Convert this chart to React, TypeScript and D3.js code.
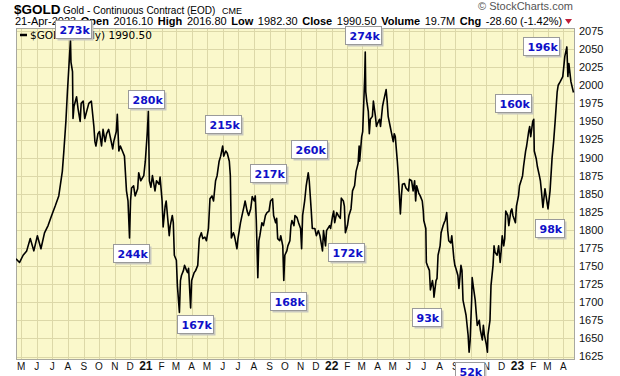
import React from "react";
import * as d3 from "d3";

const dates: string[] = [
"2020-04-21","2020-04-28","2020-05-05","2020-05-12","2020-05-19","2020-05-26","2020-06-02","2020-06-09","2020-06-16","2020-06-23","2020-06-30",
"2020-07-07","2020-07-14","2020-07-21","2020-07-24","2020-07-28","2020-07-31","2020-08-04","2020-08-06","2020-08-07","2020-08-10","2020-08-11",
"2020-08-13","2020-08-18","2020-08-21","2020-08-25","2020-08-27","2020-08-31","2020-09-03","2020-09-08","2020-09-11","2020-09-16","2020-09-18",
"2020-09-21","2020-09-23","2020-09-25","2020-09-29","2020-10-02","2020-10-06","2020-10-09","2020-10-13","2020-10-16","2020-10-20","2020-10-23",
"2020-10-28","2020-10-30","2020-11-04","2020-11-06","2020-11-09","2020-11-12","2020-11-16","2020-11-20","2020-11-24","2020-11-27","2020-11-30",
"2020-12-02","2020-12-04","2020-12-08","2020-12-11","2020-12-16","2020-12-18","2020-12-22","2020-12-28","2020-12-31",
"2021-01-04","2021-01-06","2021-01-08","2021-01-11","2021-01-14","2021-01-19","2021-01-22","2021-01-27","2021-01-29","2021-02-02","2021-02-04",
"2021-02-08","2021-02-10","2021-02-16","2021-02-18","2021-02-22","2021-02-24","2021-02-26","2021-03-02","2021-03-04","2021-03-08","2021-03-10",
"2021-03-12","2021-03-16","2021-03-18","2021-03-22","2021-03-24","2021-03-26","2021-03-30","2021-04-01","2021-04-06","2021-04-09","2021-04-13",
"2021-04-16","2021-04-20","2021-04-23","2021-04-27","2021-04-30","2021-05-04","2021-05-07","2021-05-11","2021-05-14","2021-05-18","2021-05-21",
"2021-05-25","2021-05-28","2021-06-01","2021-06-03","2021-06-07","2021-06-10","2021-06-14","2021-06-16","2021-06-17","2021-06-18","2021-06-22",
"2021-06-24","2021-06-29","2021-07-01","2021-07-06","2021-07-09","2021-07-13","2021-07-15","2021-07-19","2021-07-22","2021-07-26","2021-07-29",
"2021-08-02","2021-08-04","2021-08-06","2021-08-09","2021-08-11","2021-08-13","2021-08-17","2021-08-20","2021-08-24","2021-08-27","2021-08-31",
"2021-09-03","2021-09-07","2021-09-09","2021-09-13","2021-09-15","2021-09-17","2021-09-21","2021-09-23","2021-09-27","2021-09-29","2021-10-01",
"2021-10-05","2021-10-07","2021-10-11","2021-10-13","2021-10-15","2021-10-19","2021-10-21","2021-10-25","2021-10-28","2021-11-01","2021-11-03",
"2021-11-05","2021-11-09","2021-11-12","2021-11-16","2021-11-18","2021-11-22","2021-11-24","2021-11-29","2021-12-02","2021-12-06","2021-12-09",
"2021-12-14","2021-12-16","2021-12-20","2021-12-22","2021-12-28","2021-12-30",
"2022-01-03","2022-01-05","2022-01-07","2022-01-11","2022-01-14","2022-01-18","2022-01-20","2022-01-24","2022-01-26","2022-01-28","2022-02-01",
"2022-02-04","2022-02-08","2022-02-11","2022-02-15","2022-02-18","2022-02-22","2022-02-24","2022-02-25","2022-03-01","2022-03-03","2022-03-07",
"2022-03-08","2022-03-09","2022-03-11","2022-03-14","2022-03-16","2022-03-18","2022-03-22","2022-03-24","2022-03-28","2022-03-30","2022-04-01",
"2022-04-05","2022-04-07","2022-04-11","2022-04-13","2022-04-18","2022-04-20","2022-04-22","2022-04-26","2022-04-28","2022-05-02","2022-05-04",
"2022-05-06","2022-05-10","2022-05-12","2022-05-16","2022-05-18","2022-05-20","2022-05-24","2022-05-27","2022-06-01","2022-06-03","2022-06-07",
"2022-06-10","2022-06-13","2022-06-15","2022-06-17","2022-06-21","2022-06-24","2022-06-28","2022-06-30","2022-07-01","2022-07-05","2022-07-06",
"2022-07-08","2022-07-12","2022-07-14","2022-07-18","2022-07-20","2022-07-21","2022-07-25","2022-07-27","2022-07-29","2022-08-02","2022-08-04",
"2022-08-08","2022-08-10","2022-08-12","2022-08-15","2022-08-17","2022-08-19","2022-08-23","2022-08-25","2022-08-29","2022-08-31","2022-09-02",
"2022-09-06","2022-09-08","2022-09-12","2022-09-14","2022-09-16","2022-09-20","2022-09-22","2022-09-26","2022-09-28","2022-09-30","2022-10-03",
"2022-10-04","2022-10-06","2022-10-10","2022-10-12","2022-10-14","2022-10-18","2022-10-20","2022-10-24","2022-10-26","2022-10-28","2022-11-01",
"2022-11-03","2022-11-04","2022-11-08","2022-11-10","2022-11-14","2022-11-16","2022-11-18","2022-11-22","2022-11-25","2022-11-28","2022-11-30",
"2022-12-02","2022-12-05","2022-12-07","2022-12-09","2022-12-13","2022-12-15","2022-12-19","2022-12-21","2022-12-23","2022-12-28","2022-12-30",
"2023-01-03","2023-01-05","2023-01-09","2023-01-11","2023-01-13","2023-01-17","2023-01-19","2023-01-23","2023-01-25","2023-01-27","2023-01-31",
"2023-02-02","2023-02-03","2023-02-07","2023-02-09","2023-02-13","2023-02-15","2023-02-17","2023-02-20","2023-02-24","2023-03-02","2023-03-06",
"2023-03-10","2023-03-13","2023-03-16","2023-03-20","2023-03-22","2023-03-26","2023-03-31","2023-04-04","2023-04-08","2023-04-10","2023-04-12",
"2023-04-16","2023-04-21"
];

const closes: number[] = [
1760,1755,1765,1771,1788,1771,1792,1774,1796,1806,1820,
1833,1847,1881,1909,1950,1991,2039,2063,2032,2019,1954,
1971,1984,1967,1950,1975,1978,1954,1967,1975,1978,1964,
1943,1922,1916,1933,1936,1916,1939,1922,1933,1939,1929,
1912,1922,1936,1960,1909,1916,1909,1902,1854,1840,1789,
1840,1858,1861,1847,1857,1879,1868,1875,1895,
1936,1964,1868,1859,1875,1854,1868,1863,1873,1840,1804,
1833,1840,1792,1806,1820,1810,1765,1758,1723,1686,1730,
1737,1744,1751,1744,1741,1747,1692,1730,1741,1744,1751,
1788,1796,1788,1790,1785,1802,1843,1847,1840,1868,1875,
1895,1902,1916,1902,1909,1906,1895,1875,1833,1789,1796,
1792,1774,1788,1810,1820,1833,1840,1826,1820,1829,1846,
1840,1847,1813,1734,1785,1792,1810,1806,1820,1824,1826,
1840,1843,1820,1810,1816,1788,1785,1792,1778,1730,1765,
1771,1778,1785,1806,1813,1806,1820,1817,1810,1802,1774,
1820,1840,1861,1879,1868,1826,1802,1802,1792,1799,1792,
1771,1799,1778,1799,1806,1802,
1820,1826,1810,1824,1820,1816,1844,1840,1833,1796,1806,
1820,1829,1854,1861,1881,1892,1916,1895,1929,1936,2012,
2046,1991,1978,1964,1933,1953,1957,1978,1957,1943,1947,
1953,1943,1971,1978,1994,1978,1957,1943,1936,1922,1933,
1929,1895,1875,1822,1847,1863,1864,1858,1854,1870,1868,
1854,1868,1840,1861,1851,1847,1840,1826,1813,1802,1755,
1751,1744,1717,1730,1719,1707,1730,1733,1765,1778,1796,
1806,1810,1813,1824,1799,1785,1782,1792,1761,1751,1747,
1737,1719,1751,1744,1703,1689,1682,1655,1631,1647,1703,
1734,1723,1703,1685,1668,1675,1662,1648,1668,1655,1641,
1631,1655,1675,1723,1751,1778,1769,1765,1778,1755,1771,
1792,1778,1788,1826,1820,1806,1826,1829,1820,1810,1833,
1847,1861,1870,1875,1888,1909,1916,1936,1943,1929,1950,
1953,1909,1898,1888,1875,1868,1854,1831,1857,1829,1854,
1900,1922,1950,1991,2000,2005,2012,2040,2053,2012,2030,
2005,1990
];

const yTicks = [1625,1650,1675,1700,1725,1750,1775,1800,1825,1850,1875,1900,1925,1950,1975,2000,2025,2050,2075];
const monthLabels = ["M","J","J","A","S","O","N","D","21","F","M","A","M","J","J","A","S","O","N","D","22","F","M","A","M","J","J","A","S","O","N","D","23","F","M","A"];

const noteTexts = ["273k","280k","244k","215k","217k","167k","168k","260k","172k","274k","93k","52k","160k","98k","196k"];
const noteDates = ["2020-08-10","2021-01-02","2020-12-03","2021-06-02","2021-08-29","2021-04-08","2021-10-07","2021-11-18","2022-01-30","2022-03-03","2022-07-07","2022-09-28","2022-12-24","2023-03-04","2023-02-16"];
const notePrices = [2078,1981,1768,1947,1879,1670,1702,1912,1769,2070,1680,1605,1975,1803,2054];

const quoteParts = ["21-Apr-2023","Open","2016.10","High","2016.80","Low","1982.30","Close","1990.50","Volume","19.7M","Chg","-28.60 (-1.42%)"];

const parse = d3.timeParse("%Y-%m-%d");

export default function App() {
  const L = 16, R = 575, T = 28, B = 360;
  const x = d3.scaleTime().domain([new Date(2020, 3, 21), new Date(2023, 3, 24)]).range([L, R]);
  const y = d3.scaleLinear().domain([1625, 2075]).range([356.5, 31]);
  const pts = dates.map((d, i) => ({ d: parse(d) as Date, v: closes[i] }));
  const line = d3.line<{ d: Date; v: number }>().x(p => x(p.d)).y(p => y(p.v));
  const months = d3.timeMonth.range(new Date(2020, 4, 1), new Date(2023, 4, 1));
  const grid = "#dcd8a8";
  const sans = "'Liberation Sans', Arial, sans-serif";
  const dv = "'DejaVu Sans', Verdana, sans-serif";

  return (
    <svg width={620} height={376} style={{ position: "absolute", left: 0, top: 0, background: "#fff" }}>
      <rect x={0} y={0} width={620} height={376} fill="#fff" />
      <rect x={L} y={T} width={R - L} height={B - T} fill="#faf8cb" />
      <defs>
        <clipPath id="plot"><rect x={L} y={T} width={R - L} height={B - T} /></clipPath>
      </defs>
      {yTicks.map(t => (
        <line key={"h" + t} x1={L} x2={R} y1={Math.round(y(t)) + 0.5} y2={Math.round(y(t)) + 0.5} stroke={grid} strokeWidth={1} />
      ))}
      {months.map((m, i) => (
        <line key={"v" + i} x1={Math.round(x(m)) + 0.5} x2={Math.round(x(m)) + 0.5} y1={T} y2={B} stroke={grid} strokeWidth={1} />
      ))}
      <rect x={L + 0.5} y={T + 0.5} width={R - L - 1} height={B - T - 1} fill="none" stroke="#a8a8a0" strokeWidth={1} />
      <path d={line(pts) || ""} fill="none" stroke="#000" strokeWidth={1.6} strokeLinejoin="round" clipPath="url(#plot)" />

      {/* legend */}
      <line x1={20} x2={27} y1={35} y2={35} stroke="#000" strokeWidth={2.5} />
      <text x={30} y={39} fontFamily={dv} fontSize={10.5} fill="#000">$GOLD (Daily) 1990.50</text>

      {/* y axis labels */}
      {yTicks.map(t => (
        <text key={"yl" + t} x={579} y={y(t)} dy="0.36em" fontFamily={sans} fontSize={11} fill="#111">{t}</text>
      ))}
      {/* x axis labels */}
      {months.map((m, i) => {
        const lab = monthLabels[i];
        const yr = lab.length === 2;
        return (
          <text key={"xl" + i} x={x(m)} y={370} textAnchor="middle" fontFamily={sans}
            fontSize={yr ? 12 : 10} fontWeight={yr ? "bold" : "normal"} fill="#111">{lab}</text>
        );
      })}

      {/* header */}
      <text x={14} y={14} fontFamily={sans} fontSize={13.5} fontWeight="bold" fill="#000">$GOLD</text>
      <text x={63} y={14} fontFamily={sans} fontSize={10} fill="#000">Gold - Continuous Contract (EOD)</text>
      <text x={222} y={14} fontFamily={sans} fontSize={9} fill="#000">CME</text>
      <text x={478} y={10} fontFamily={sans} fontSize={11} fill="#555">© StockCharts.com</text>
      <text x={15} y={25} fontFamily={sans} fontSize={11} fill="#000">
        {quoteParts.map((p, i) => (
          <tspan key={"q" + i} dx={i === 0 ? 0 : 4.6} fontWeight={i % 2 === 1 ? "bold" : "normal"}>{p}</tspan>
        ))}
      </text>
      <path d="M565,19 L572,19 L568.5,24 Z" fill="#c0203a" />

      {/* volume notes */}
      {noteTexts.map((t, i) => {
        const cx = x(parse(noteDates[i]) as Date);
        const cy = y(notePrices[i]);
        const w = t.length * 7 + 8;
        const h = 18;
        const bx = Math.round(cx - w / 2) + 0.5;
        const by = Math.round(cy - h / 2) + 0.5;
        return (
          <g key={"n" + i}>
            <rect x={bx + 2} y={by + 2} width={w} height={h} fill="#c8c8c0" />
            <rect x={bx} y={by} width={w} height={h} fill="#fff" stroke="#9a9a9a" strokeWidth={1} />
            <text x={bx + 4} y={by + 13} fontFamily={dv} fontSize={11} fontWeight="bold" fill="#1010c8">{t}</text>
          </g>
        );
      })}
    </svg>
  );
}
